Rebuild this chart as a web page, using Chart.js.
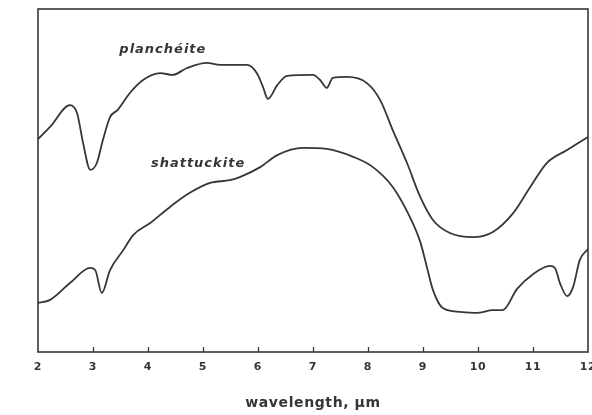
<!DOCTYPE html>
<html>
<head>
<meta charset="utf-8">
<script src="https://cdn.jsdelivr.net/npm/chart.js@4.4.1/dist/chart.umd.min.js"></script>
<style>
    html, body { margin: 0; padding: 0; background: #fff; }
    #wrap { width: 592px; height: 415px; position: relative; }
</style>
</head>
<body>
<div id="wrap"><canvas id="spectraChart"></canvas></div>
<script>
// wavelength (µm) and relative transmission (arbitrary units)
var planchWave = [2.0, 2.22, 2.58, 2.71, 2.82, 2.95, 3.07, 3.18, 3.31, 3.45, 3.67, 3.91, 4.22, 4.45, 4.71, 5.07, 5.31, 5.80, 5.98, 6.09, 6.18, 6.35, 6.53, 7.0, 7.13, 7.25, 7.36, 7.62, 7.98, 8.22, 8.45, 8.71, 8.95, 9.18, 9.49, 9.91, 10.27, 10.64, 10.95, 11.25, 11.62, 12.0];
var planchValues = [62.1, 65.6, 72.0, 69.7, 60.9, 53.1, 55.1, 61.8, 68.5, 70.6, 75.5, 79.3, 81.3, 80.8, 82.8, 84.3, 83.7, 83.7, 81.3, 77.3, 73.8, 77.8, 80.5, 80.8, 79.3, 77.0, 79.9, 80.2, 78.4, 73.5, 64.7, 55.1, 45.2, 38.5, 34.7, 33.5, 35.0, 40.5, 48.1, 55.1, 58.9, 62.7];

var shattWave = [2.0, 2.22, 2.58, 2.95, 3.04, 3.16, 3.31, 3.55, 3.73, 4.04, 4.40, 4.76, 5.13, 5.49, 5.67, 6.04, 6.35, 6.82, 7.25, 7.73, 8.09, 8.45, 8.76, 8.95, 9.07, 9.18, 9.36, 9.67, 9.98, 10.27, 10.45, 10.71, 11.0, 11.31, 11.40, 11.49, 11.62, 11.73, 11.85, 12.0];
var shattValues = [14.3, 15.2, 20.1, 24.5, 23.9, 17.2, 23.9, 29.7, 34.1, 37.6, 42.3, 46.4, 49.3, 50.1, 51.0, 53.9, 57.4, 59.5, 59.2, 56.9, 53.9, 48.1, 39.4, 32.1, 24.8, 18.1, 12.8, 11.7, 11.4, 12.2, 12.2, 18.4, 22.7, 25.1, 24.5, 20.1, 16.3, 19.0, 26.8, 30.0];

var tickValues = [2, 3, 4, 5, 6, 7, 8, 9, 10, 11, 12];
var tickLabels = ['2', '3', '4', '5', '6', '7', '8', '9', '10', '11', '12'];
var seriesNames = ['planchéite', 'shattuckite'];

var ink = '#363636';

function toPoints(xs, ys) {
    return xs.map(function (x, i) { return { x: x, y: ys[i] }; });
}

// frame, inward ticks and the curve names
var decorPlugin = {
    id: 'decor',
    beforeDraw: function (chart) {
        // the original lettering is a little spaced out
        chart.ctx.letterSpacing = '0.6px';
    },
    afterDraw: function (chart) {
        var ctx = chart.ctx;
        var area = chart.chartArea;
        var xs = chart.scales.x;
        var ys = chart.scales.y;
        ctx.save();
        ctx.strokeStyle = ink;
        ctx.lineWidth = 1.6;
        ctx.strokeRect(area.left, area.top, area.right - area.left, area.bottom - area.top);

        ctx.lineWidth = 1.3;
        tickValues.forEach(function (v) {
            if (v === xs.min || v === xs.max) return;
            var px = Math.round(xs.getPixelForValue(v)) + 0.5;
            ctx.beginPath();
            ctx.moveTo(px, area.bottom);
            ctx.lineTo(px, area.bottom - 5);
            ctx.stroke();
        });

        ctx.fillStyle = ink;
        ctx.letterSpacing = '1px';
        ctx.font = 'italic bold 13px "DejaVu Sans"';
        ctx.textAlign = 'center';
        ctx.textBaseline = 'middle';
        ctx.fillText(seriesNames[0], xs.getPixelForValue(4.27), ys.getPixelForValue(88.2));
        ctx.fillText(seriesNames[1], xs.getPixelForValue(4.91), ys.getPixelForValue(54.8));
        ctx.restore();
        ctx.letterSpacing = '0px';
    }
};

var ctx = document.getElementById('spectraChart').getContext('2d');
var chart = new Chart(ctx, {
    type: 'line',
    data: {
        datasets: [{
            label: seriesNames[0],
            data: toPoints(planchWave, planchValues),
            borderColor: ink,
            borderWidth: 1.8,
            pointRadius: 0,
            fill: false,
            cubicInterpolationMode: 'monotone'
        }, {
            label: seriesNames[1],
            data: toPoints(shattWave, shattValues),
            borderColor: ink,
            borderWidth: 1.8,
            pointRadius: 0,
            fill: false,
            cubicInterpolationMode: 'monotone'
        }]
    },
    options: {
        responsive: true,
        maintainAspectRatio: false,
        animation: false,
        layout: { padding: { left: 38, right: 4, top: 9, bottom: 0 } },
        plugins: {
            legend: { display: false },
            tooltip: { enabled: false }
        },
        scales: {
            x: {
                type: 'linear',
                min: 2,
                max: 12,
                afterBuildTicks: function (scale) {
                    scale.ticks = tickValues.map(function (v) { return { value: v }; });
                },
                afterFit: function (scale) {
                    scale.height = 63;
                    scale.paddingLeft = 0;
                    scale.paddingRight = 0;
                },
                grid: { display: false, drawTicks: false },
                border: { display: false },
                ticks: {
                    padding: 9,
                    color: ink,
                    font: { family: 'DejaVu Sans', size: 11, weight: 'bold' },
                    maxRotation: 0,
                    autoSkip: false,
                    callback: function (value) {
                        var i = tickValues.indexOf(value);
                        return i >= 0 ? tickLabels[i] : '';
                    }
                },
                title: {
                    display: true,
                    text: 'wavelength, µm',
                    color: ink,
                    font: { family: 'DejaVu Sans', size: 14, weight: 'bold' },
                    padding: { top: 0, bottom: 3 }
                }
            },
            y: {
                display: false,
                min: 0,
                max: 100
            }
        }
    },
    plugins: [decorPlugin]
});
</script>
</body>
</html>
